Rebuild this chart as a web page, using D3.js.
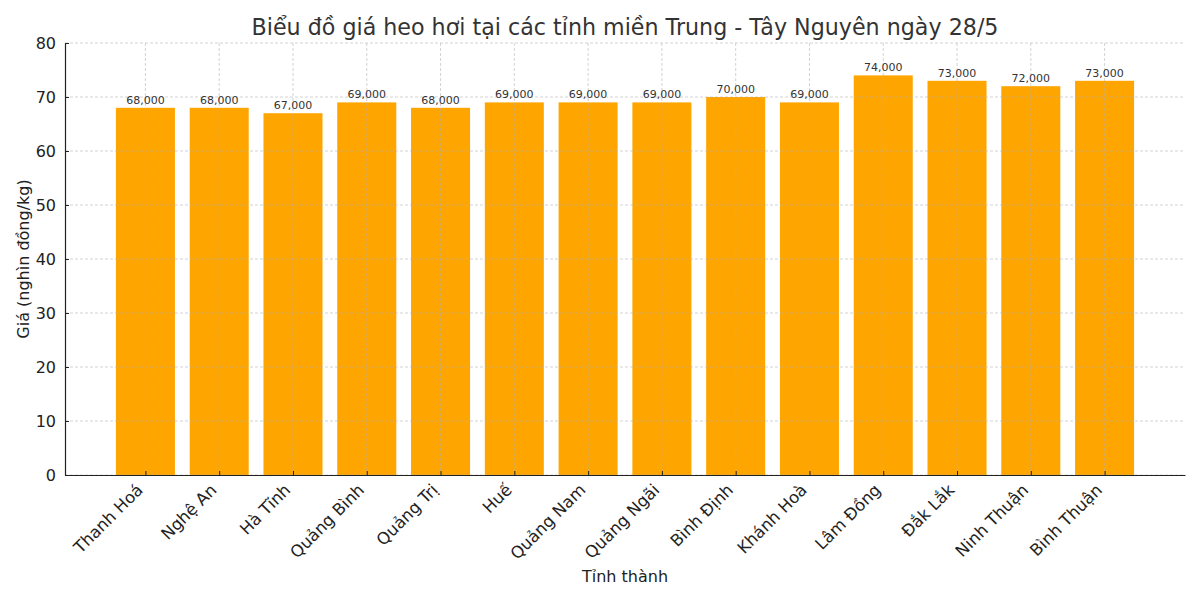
<!DOCTYPE html>
<html><head><meta charset="utf-8">
<script src="https://cdn.jsdelivr.net/npm/d3@7"></script>
<style>body{margin:0;background:#fff;} text{font-family:"DejaVu Sans",sans-serif;}</style>
</head><body><svg id="c" width="1200" height="600"></svg>
<script>
const provinces = ["Thanh Hoá","Nghệ An","Hà Tĩnh","Quảng Bình","Quảng Trị","Huế","Quảng Nam","Quảng Ngãi","Bình Định","Khánh Hoà","Lâm Đồng","Đắk Lắk","Ninh Thuận","Bình Thuận"];
const prices = [68,68,67,69,68,69,69,69,70,69,74,73,72,73];
const yTicks = [0,10,20,30,40,50,60,70,80];
const title = "Biểu đồ giá heo hơi tại các tỉnh miền Trung - Tây Nguyên ngày 28/5";

const svg = d3.select("#c");
const L=65,R=1185,T=43,B=475;
const x = d3.scaleLinear().domain([-1.09, provinces.length-1+1.09]).range([L,R]);
const y = d3.scaleLinear().domain([0,80]).range([B,T]);
const bw = x(0.8)-x(0);

// bars
svg.append("g").selectAll("rect").data(prices).join("rect")
  .attr("x",(d,i)=>x(i)-bw/2).attr("width",bw)
  .attr("y",d=>y(d)).attr("height",d=>B-y(d)).attr("fill","#FFA500");

// grid (on top)
const g = svg.append("g").attr("stroke","#b0b0b0").attr("stroke-opacity",0.7).attr("stroke-dasharray","3,2").attr("stroke-width",0.8);
yTicks.forEach(t=>g.append("line").attr("x1",L).attr("x2",R).attr("y1",y(t)).attr("y2",y(t)));
provinces.forEach((p,i)=>g.append("line").attr("x1",x(i)).attr("x2",x(i)).attr("y1",T).attr("y2",B));

// axes
const ya = svg.append("g").attr("transform",`translate(${L},0)`).call(d3.axisLeft(y).tickValues(yTicks).tickSizeInner(-4).tickSizeOuter(0).tickPadding(9));
ya.select(".domain").attr("stroke","#222").attr("stroke-width",1.2);
ya.selectAll("text").attr("font-size",16).attr("fill","#222").attr("font-family","DejaVu Sans");
ya.selectAll(".tick line").attr("stroke","#222");

const xa = svg.append("g").attr("transform",`translate(0,${B})`).call(d3.axisBottom(x).tickValues(d3.range(provinces.length)).tickFormat(i=>provinces[i]).tickSizeInner(-4).tickSizeOuter(0).tickPadding(0));
xa.select(".domain").attr("stroke","#222").attr("stroke-width",1.2);
xa.selectAll(".tick line").attr("stroke","#222");
xa.selectAll("text").attr("font-size",16.5).attr("fill","#222").attr("font-family","DejaVu Sans")
  .attr("text-anchor","end").attr("dy",0).attr("y",0)
  .attr("transform","translate(-2,16) rotate(-45)");

// value labels
svg.append("g").selectAll("text").data(prices).join("text")
  .attr("x",(d,i)=>x(i)).attr("y",d=>y(d)-4).attr("text-anchor","middle")
  .attr("font-size",11).attr("fill","#333").text(d=>d3.format(",")(d*1000));

// titles
svg.append("text").attr("x",625).attr("y",35).attr("text-anchor","middle").attr("font-size",22.2).attr("fill","#333").text(title);
svg.append("text").attr("x",625).attr("y",582).attr("text-anchor","middle").attr("font-size",16).attr("fill","#222").text("Tỉnh thành");
svg.append("text").attr("transform",`translate(29,${(T+B)/2}) rotate(-90)`).attr("text-anchor","middle").attr("font-size",16).attr("fill","#222").text("Giá (nghìn đồng/kg)");
</script></body></html>
